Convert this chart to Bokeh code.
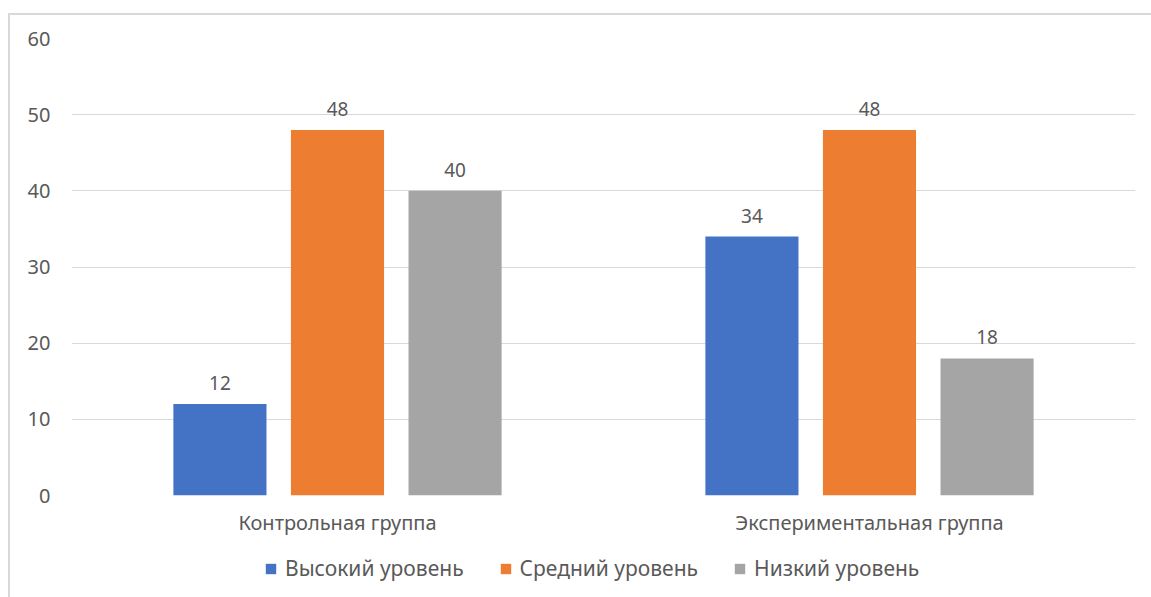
from bokeh.plotting import figure
from bokeh.layouts import column
from bokeh.models import ColumnDataSource, FactorRange, Range1d, Legend, LegendItem, FixedTicker
from bokeh.transform import dodge
from bokeh.core.properties import value
from bokeh.embed import file_html
from bokeh.resources import INLINE

groups = ["Контрольная группа", "Экспериментальная группа"]
series = ["Высокий уровень", "Средний уровень", "Низкий уровень"]
high = [12, 34]
medium = [48, 48]
low = [40, 18]
colors = ["#4472C4", "#ED7D31", "#A5A5A5"]
yticks = [0, 10, 20, 30, 40, 50, 60]

FONT = "Noto Sans"
TXT = "#595959"

src = ColumnDataSource(dict(
    groups=groups,
    high=high, medium=medium, low=low,
    high_t=[str(v) for v in high],
    medium_t=[str(v) for v in medium],
    low_t=[str(v) for v in low],
))

p = figure(
    x_range=FactorRange(*groups, range_padding=0),
    y_range=Range1d(0, 60),
    width=1141, height=523,
    output_backend="svg", toolbar_location=None,
    min_border_left=61, min_border_right=16, min_border_top=23, min_border_bottom=43,
)
p.outline_line_color = None
p.background_fill_color = "white"
p.border_fill_color = "white"

# strip below the chart that holds the legend
pl = figure(width=1141, height=59, output_backend="svg", toolbar_location=None,
            x_axis_location=None, y_axis_location=None,
            x_range=FactorRange(*groups, range_padding=0), y_range=Range1d(-200, -100),
            min_border_left=0, min_border_right=0, min_border_top=0, min_border_bottom=0)
pl.outline_line_color = None
pl.xgrid.visible = False
pl.ygrid.visible = False

cols = ["high", "medium", "low"]
offsets = [-0.221, 0.0, 0.221]
items = []
for c, off, col, name in zip(cols, offsets, colors, series):
    p.vbar(x=dodge("groups", off, range=p.x_range), top=c, width=0.175,
           source=src, fill_color=col, line_color=None)
    p.text(x=dodge("groups", off, range=p.x_range), y=c, text=c + "_t", source=src,
           text_align="center", text_baseline="bottom", y_offset=-14,
           text_font=value(FONT), text_font_size="19px", text_color=TXT)
    # legend proxy: zero-width bars outside the strip's visible range
    lr = pl.vbar(x=dodge("groups", off, range=pl.x_range), top=c, width=0,
                 source=src, fill_color=col, line_color=None)
    items.append(LegendItem(label=name, renderers=[lr]))

legend = Legend(items=items, orientation="horizontal", location=(193, 15),
                border_line_color=None, background_fill_alpha=0,
                label_text_font=FONT, label_text_font_size="21px", label_text_color=TXT,
                glyph_width=13, glyph_height=13, label_standoff=8, spacing=35,
                padding=0, margin=0)
pl.add_layout(legend, "center")

p.yaxis.ticker = FixedTicker(ticks=yticks)
p.yaxis.axis_line_color = None
p.yaxis.major_tick_line_color = None
p.yaxis.minor_tick_line_color = None
p.yaxis.major_tick_out = 0
p.yaxis.major_tick_in = 0
p.yaxis.minor_tick_out = 0
p.yaxis.major_label_standoff = 21
p.yaxis.major_label_text_font = FONT
p.yaxis.major_label_text_font_size = "20px"
p.yaxis.major_label_text_color = TXT

p.xaxis.axis_line_color = None
p.xaxis.major_tick_line_color = None
p.xaxis.major_tick_out = 0
p.xaxis.major_tick_in = 0
p.xaxis.major_label_standoff = 13
p.xaxis.major_label_text_font = FONT
p.xaxis.major_label_text_font_size = "20px"
p.xaxis.major_label_text_color = TXT

p.xgrid.grid_line_color = None
p.ygrid.grid_line_color = "#d9d9d9"
p.ygrid.grid_line_width = 1

layout = column(p, pl, spacing=0, margin=(13, 0, 0, 8),
                styles={"border-left": "2px solid #d9d9d9", "border-top": "2px solid #d9d9d9"})

open("out.html", "w").write(file_html(layout, INLINE))
